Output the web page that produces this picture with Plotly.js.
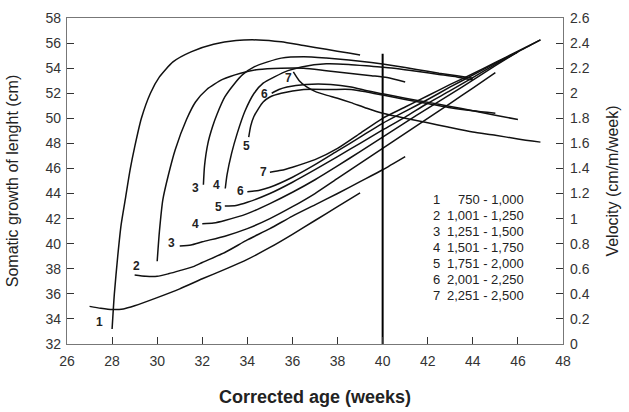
<!DOCTYPE html>
<html>
<head>
<meta charset="utf-8">
<script src="https://cdn.plot.ly/plotly-3.0.1.min.js"></script>
<style>html,body{margin:0;padding:0;background:#fff;}#chart{width:629px;height:412px;}</style>
</head>
<body>
<div id="chart"></div>
<script>
// ---- Growth (length, cm) curves: left axis ----
var g1x = [27.0, 27.5, 28.0, 28.5, 29.0, 30.0, 31.0, 32.0, 33.0, 34.0, 35.0, 36.0, 37.0, 38.0, 39.0];
var g1y = [35.0, 34.85, 34.75, 34.8, 35.05, 35.7, 36.4, 37.2, 37.95, 38.75, 39.7, 40.75, 41.85, 42.95, 44.05];
var g2x = [29.0, 29.5, 30.0, 30.5, 31.0, 31.6, 32.0, 33.0, 34.0, 35.0, 36.0, 37.0, 38.0, 39.0, 40.0, 41.0];
var g2y = [37.5, 37.4, 37.4, 37.6, 37.85, 38.17, 38.5, 39.3, 40.3, 41.2, 42.2, 43.1, 44.0, 44.95, 45.9, 46.95];
var g3x = [31.0, 31.5, 32.0, 33.0, 34.0, 35.0, 36.0, 37.0, 38.0, 39.0, 40.0, 41.0, 42.0, 43.0, 44.0, 45.0];
var g3y = [39.82, 39.9, 40.15, 40.6, 41.2, 42.0, 42.95, 44.0, 45.2, 46.4, 47.6, 48.8, 50.0, 51.2, 52.4, 53.64];
var g4x = [32.0, 32.5, 33.0, 34.0, 35.0, 36.0, 37.0, 38.0, 39.0, 40.0, 41.0, 42.0, 43.0, 44.0, 45.0, 46.0];
var g4y = [41.6, 41.65, 41.85, 42.4, 43.2, 44.1, 45.1, 46.2, 47.35, 48.5, 49.65, 50.8, 51.9, 53.05, 54.2, 55.3];
var g5x = [33.0, 33.5, 34.0, 35.0, 36.0, 37.0, 38.0, 39.0, 40.0, 41.0, 42.0, 43.0, 44.0, 45.0, 46.0];
var g5y = [43.0, 43.05, 43.3, 44.0, 44.9, 45.9, 46.95, 48.0, 49.07, 50.1, 51.2, 52.2, 53.25, 54.3, 55.3];
var g6x = [34.0, 34.5, 35.0, 36.0, 37.0, 38.0, 39.0, 40.0, 41.0, 42.0, 43.0, 44.0, 45.0, 46.0, 47.0];
var g6y = [44.15, 44.25, 44.5, 45.3, 46.3, 47.4, 48.5, 49.6, 50.55, 51.5, 52.5, 53.45, 54.4, 55.3, 56.25];
var g7x = [35.0, 35.5, 36.0, 37.0, 38.0, 39.0, 40.0, 41.0, 42.0, 43.0, 44.0, 45.0, 46.0, 47.0];
var g7y = [45.7, 45.85, 46.1, 46.7, 47.6, 48.8, 50.0, 50.9, 51.8, 52.7, 53.55, 54.45, 55.35, 56.25];

// ---- Velocity (cm/m/week) curves: right axis ----
var v1x = [28.0, 28.1, 28.25, 28.4, 28.6, 28.8, 29.0, 29.3, 29.7, 30.1, 30.7, 31.5, 32.5, 33.5, 34.5, 35.5, 36.5, 37.5, 38.5, 39.0];
var v1y = [0.12, 0.4, 0.7, 0.95, 1.17, 1.39, 1.57, 1.8, 2.0, 2.13, 2.25, 2.33, 2.39, 2.42, 2.425, 2.41, 2.38, 2.35, 2.32, 2.305];
var v2x = [30.0, 30.1, 30.25, 30.5, 30.8, 31.3, 31.7, 32.2, 32.9, 33.7, 34.5, 35.5, 36.5, 37.5, 38.5, 39.5, 40.2, 41.0];
var v2y = [0.66, 0.9, 1.15, 1.35, 1.55, 1.79, 1.93, 2.03, 2.11, 2.16, 2.19, 2.2, 2.2, 2.18, 2.16, 2.14, 2.125, 2.09];
var v3x = [32.05, 32.1, 32.25, 32.45, 32.65, 33.0, 33.4, 33.8, 34.3, 34.9, 35.5, 36.5, 37.5, 38.5, 39.5, 40.5, 41.5, 42.5, 43.3, 44.0];
var v3y = [1.27, 1.42, 1.6, 1.73, 1.83, 1.97, 2.07, 2.15, 2.21, 2.25, 2.28, 2.29, 2.28, 2.265, 2.245, 2.22, 2.19, 2.16, 2.14, 2.12];
var v4x = [33.02, 33.1, 33.3, 33.55, 33.9, 34.3, 34.7, 35.2, 35.8, 36.4, 37.5, 38.5, 39.5, 40.5, 41.5, 42.5, 43.3, 44.0];
var v4y = [1.24, 1.35, 1.52, 1.68, 1.86, 2.0, 2.08, 2.13, 2.18, 2.21, 2.235, 2.23, 2.215, 2.2, 2.175, 2.15, 2.13, 2.105];
var v5x = [34.06, 34.15, 34.28, 34.5, 34.7, 35.0, 35.5, 36.5, 37.7, 38.6, 39.3, 40.0, 41.0, 42.1, 43.0, 44.0, 45.0];
var v5y = [1.65, 1.74, 1.81, 1.88, 1.93, 1.97, 2.0, 2.03, 2.03, 2.03, 2.01, 1.985, 1.95, 1.915, 1.885, 1.86, 1.84];
var v6x = [35.08, 35.4, 35.76, 36.6, 37.7, 38.6, 39.3, 40.0, 41.0, 42.1, 43.0, 44.0, 45.0, 46.0];
var v6y = [2.0, 2.03, 2.05, 2.07, 2.07, 2.05, 2.02, 1.995, 1.96, 1.925, 1.895, 1.86, 1.825, 1.79];
var v7x = [36.04, 36.3, 36.63, 37.0, 37.5, 38.0, 38.6, 39.3, 40.0, 41.0, 42.0, 42.9, 44.0, 45.0, 46.0, 47.0];
var v7y = [2.17, 2.1, 2.05, 2.015, 1.985, 1.96, 1.925, 1.88, 1.84, 1.8, 1.765, 1.73, 1.69, 1.665, 1.635, 1.61];

// ---- Term reference line (40 weeks) ----
var termX = [40, 40];
var termY = [32, 55.15];

// ---- Curve number labels (left-axis coordinates) ----
var labelText = ['1', '2', '3', '4', '5', '6', '7', '3', '4', '5', '6', '7'];
var labelX = [27.44, 29.07, 30.65, 31.69, 32.72, 33.69, 34.72, 31.69, 32.62, 33.96, 34.76, 35.84];
var labelY = [33.78, 38.22, 40.03, 41.55, 42.95, 44.23, 45.7, 44.42, 44.68, 47.82, 51.94, 53.19];

// ---- Birth-weight key ----
var keyNums = ['1', '2', '3', '4', '5', '6', '7'];
var keyRanges = ['750 - 1,000', '1,001 - 1,250', '1,251 - 1,500', '1,501 - 1,750', '1,751 - 2,000', '2,001 - 2,250', '2,251 - 2,500'];
var keyY = [43.54, 42.26, 40.97, 39.69, 38.4, 37.12, 35.83];

var lineStyle = {color: '#111111', width: 1.5};
var growth = [[g1x, g1y], [g2x, g2y], [g3x, g3y], [g4x, g4y], [g5x, g5y], [g6x, g6y], [g7x, g7y]];
var velocity = [[v1x, v1y], [v2x, v2y], [v3x, v3y], [v4x, v4y], [v5x, v5y], [v6x, v6y], [v7x, v7y]];

var traces = [];
growth.forEach(function (g) {
  traces.push({x: g[0], y: g[1], type: 'scatter', mode: 'lines', line: {color: lineStyle.color, width: lineStyle.width, shape: 'spline', smoothing: 0.6}, yaxis: 'y', hoverinfo: 'skip'});
});
velocity.forEach(function (v) {
  traces.push({x: v[0], y: v[1], type: 'scatter', mode: 'lines', line: {color: lineStyle.color, width: lineStyle.width, shape: 'spline', smoothing: 0.6}, yaxis: 'y2', hoverinfo: 'skip'});
});
traces.push({x: termX, y: termY, type: 'scatter', mode: 'lines', line: {color: '#000000', width: 2}, yaxis: 'y', hoverinfo: 'skip'});
traces.push({x: [26], y: [0], type: 'scatter', mode: 'markers', marker: {opacity: 0}, yaxis: 'y2', hoverinfo: 'skip'});

var fontFam = '"Liberation Sans", Arial, Helvetica, sans-serif';
var annotations = [];
labelText.forEach(function (t, i) {
  annotations.push({x: labelX[i], y: labelY[i], xref: 'x', yref: 'y', text: '<b>' + t + '</b>', showarrow: false,
    font: {family: fontFam, size: 12, color: '#222'}, xanchor: 'center', yanchor: 'middle'});
});
keyNums.forEach(function (t, i) {
  annotations.push({x: 42.4, y: keyY[i], xref: 'x', yref: 'y', text: t, showarrow: false,
    font: {family: fontFam, size: 13, color: '#222'}, xanchor: 'center', yanchor: 'middle'});
  annotations.push({x: 46.36, y: keyY[i], xref: 'x', yref: 'y', text: keyRanges[i], showarrow: false,
    font: {family: fontFam, size: 13, color: '#222'}, xanchor: 'right', yanchor: 'middle'});
});

var axisCommon = {
  showgrid: false, zeroline: false, showline: true, linecolor: '#777777', linewidth: 1.2,
  ticks: 'inside', ticklen: 7, tickcolor: '#333333', tickwidth: 1,
  tickfont: {family: fontFam, size: 14, color: '#333'}
};

var layout = {
  width: 629, height: 412,
  margin: {l: 67, r: 66, t: 18, b: 68},
  paper_bgcolor: '#ffffff', plot_bgcolor: '#ffffff',
  showlegend: false,
  xaxis: Object.assign({}, axisCommon, {
    range: [26, 48], dtick: 2, tick0: 26, mirror: true, ticklabelstandoff: 4,
    title: {text: '<b>Corrected age (weeks)</b>', font: {family: fontFam, size: 18, color: '#222'}, standoff: 22}
  }),
  yaxis: Object.assign({}, axisCommon, {
    range: [32, 58], dtick: 2, tick0: 32, ticklabelstandoff: 2,
    title: {text: 'Somatic growth of lenght (cm)', font: {family: fontFam, size: 16, color: '#222'}, standoff: 22}
  }),
  yaxis2: Object.assign({}, axisCommon, {
    range: [0, 2.6], dtick: 0.2, tick0: 0, overlaying: 'y', side: 'right', ticklabelstandoff: 3,
    title: {text: 'Velocity (cm/m/week)', font: {family: fontFam, size: 16, color: '#222'}, standoff: 18}
  }),
  annotations: annotations
};

Plotly.newPlot('chart', traces, layout, {displayModeBar: false, staticPlot: true});
</script>
</body>
</html>
